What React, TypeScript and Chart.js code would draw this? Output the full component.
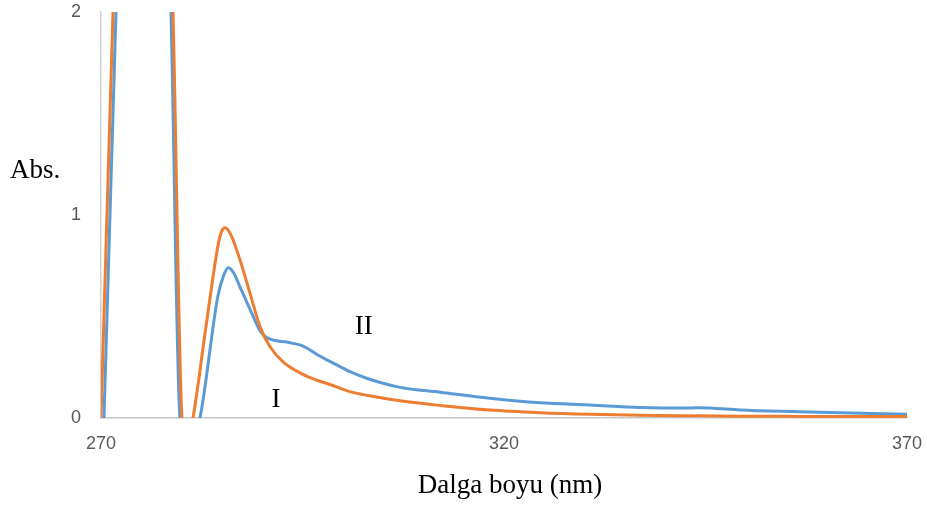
import React, { useEffect, useRef } from "react";
import { Chart, registerables } from "chart.js";

Chart.register(...registerables);

// Wavelength (nm) and absorbance for series I (orange)
const waveI = [270, 271.49, 272.0, 278.4, 278.93, 280.05, 280.7, 281.41, 283.0, 284.52, 284.95, 285.4, 286.2, 287.25, 288.49, 289.73, 290.97, 292.62, 294.69, 295.93, 298.78, 300.89, 302.96, 307.1, 312.06, 318.26, 324.47, 330.67, 336.87, 344.3, 349.28, 356.7, 370];
const absI = [0, 2, 2.6, 2.6, 2, 0, -0.12, 0, 0.443, 0.85, 0.918, 0.937, 0.895, 0.778, 0.614, 0.45, 0.351, 0.275, 0.222, 0.199, 0.16, 0.13, 0.112, 0.085, 0.062, 0.039, 0.026, 0.018, 0.013, 0.011, 0.009, 0.008, 0.007];

// Wavelength (nm) and absorbance for series II (blue)
const waveII = [270.37, 271.86, 272.3, 278.2, 278.68, 279.8, 281.0, 282.28, 284.5, 285.2, 285.8, 286.5, 287.25, 288.49, 289.73, 290.5, 291.34, 293.0, 294.69, 295.93, 296.9, 298.41, 300.89, 302.96, 307.1, 312.06, 318.26, 324.47, 330.67, 336.87, 343.08, 344.3, 346.0, 349.28, 356.7, 370];
const absII = [0, 2, 2.6, 2.6, 2, 0, -0.15, 0, 0.6, 0.7, 0.74, 0.712, 0.645, 0.535, 0.43, 0.398, 0.384, 0.374, 0.36, 0.335, 0.31, 0.279, 0.228, 0.196, 0.151, 0.127, 0.097, 0.075, 0.064, 0.052, 0.049, 0.051, 0.048, 0.039, 0.031, 0.018];

const xTicks = [270, 320, 370];
const yTicks = [0, 1, 2];

const seriesLabels = ["I", "II"];
const labelPos = [
  { x: 291.7, y: 0.055 },
  { x: 302.6, y: 0.415 },
];

const textPlugin = {
  id: "textPlugin",
  afterDraw(chart: any) {
    const { ctx, scales } = chart;
    ctx.save();
    ctx.fillStyle = "#000000";
    ctx.font = "27px 'Liberation Serif'";
    ctx.textBaseline = "alphabetic";
    ctx.textAlign = "left";
    ctx.fillText("Abs.", 10, 178);
    ctx.textAlign = "center";
    ctx.fillText("Dalga boyu (nm)", 510, 493);
    seriesLabels.forEach((t, i) => {
      const px = scales.x.getPixelForValue(labelPos[i].x);
      const py = scales.y.getPixelForValue(labelPos[i].y);
      ctx.fillText(t, px, py);
    });
    ctx.restore();
  },
};

export default function App() {
  const ref = useRef<HTMLCanvasElement>(null);
  useEffect(() => {
    document.body.style.margin = "0";
    const mk = (xs: number[], ys: number[]) => xs.map((x, i) => ({ x, y: ys[i] }));
    const chart = new Chart(ref.current as HTMLCanvasElement, {
      type: "line",
      data: {
        datasets: [
          {
            label: "I",
            data: mk(waveI, absI),
            borderColor: "#ED7D31",
            borderWidth: 3,
            pointRadius: 0,
            cubicInterpolationMode: "monotone",
            fill: false,
          },
          {
            label: "II",
            data: mk(waveII, absII),
            borderColor: "#5B9BD5",
            borderWidth: 3,
            pointRadius: 0,
            cubicInterpolationMode: "monotone",
            fill: false,
          },
        ],
      },
      options: {
        animation: false,
        responsive: false,
        maintainAspectRatio: false,
        layout: { padding: { left: 0, right: 20, top: 12, bottom: 0 } },
        plugins: { legend: { display: false }, tooltip: { enabled: false } },
        scales: {
          x: {
            type: "linear",
            min: 270,
            max: 370,
            afterBuildTicks: (s: any) => {
              s.ticks = xTicks.map((v) => ({ value: v }));
            },
            afterFit: (s: any) => {
              s.height = 89;
              s.paddingLeft = 0;
              s.paddingRight = 0;
            },
            grid: { display: false, drawTicks: false },
            border: { display: true, color: "#c8c8c8", width: 1.5 },
            ticks: {
              padding: 15,
              color: "#595959",
              font: { family: "'Liberation Sans'", size: 18 },
              maxRotation: 0,
            },
          },
          y: {
            type: "linear",
            min: 0,
            max: 2,
            afterBuildTicks: (s: any) => {
              s.ticks = yTicks.map((v) => ({ value: v }));
            },
            afterFit: (s: any) => {
              s.width = 101;
              s.paddingTop = 0;
              s.paddingBottom = 0;
            },
            grid: { display: false, drawTicks: false },
            border: { display: true, color: "#d0d0d0", width: 1.5 },
            ticks: {
              padding: 20,
              color: "#595959",
              font: { family: "'Liberation Sans'", size: 18 },
            },
          },
        },
      },
      plugins: [textPlugin],
    } as any);
    return () => chart.destroy();
  }, []);
  return (
    <div style={{ position: "fixed", left: 0, top: 0, width: 927, height: 507, background: "#fff" }}>
      <canvas ref={ref} width={927} height={507} style={{ width: 927, height: 507 }} />
    </div>
  );
}
